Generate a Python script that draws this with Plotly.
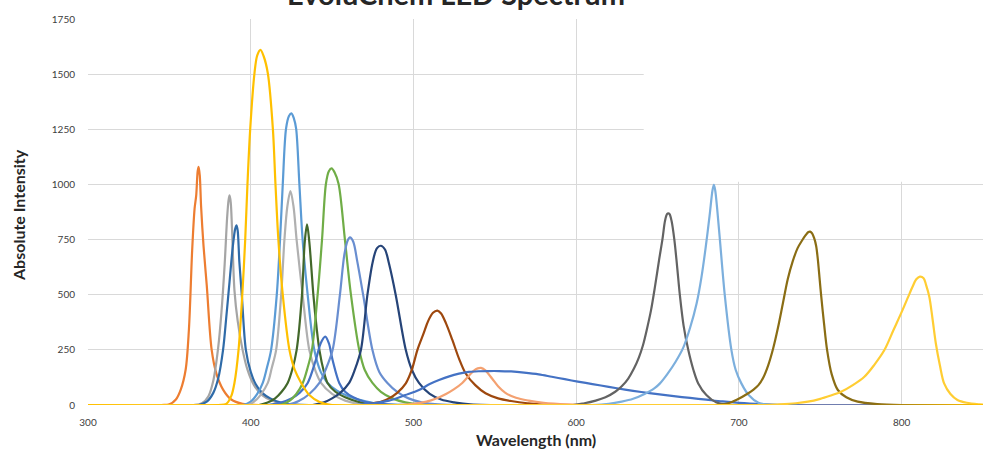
import plotly.graph_objects as go

# ---- data (wavelength nm, absolute intensity) ----
uv365_x = [300, 345, 350, 354, 357, 360, 362, 364, 365.5, 366.5, 367.4, 368, 368.7, 369.5, 371, 373, 376, 379, 383, 388, 395, 405, 850]
uv365_y = [0, 0, 3, 25, 70, 160, 340, 700, 890, 950, 1060, 1080, 1040, 900, 720, 540, 250, 140, 70, 25, 5, 0, 0]

uv385a_x = [300, 365, 370, 374, 377, 380, 382, 384, 385.5, 386.4, 387, 387.7, 388.5, 390, 392, 395, 398, 402, 407, 413, 420, 850]
uv385a_y = [0, 0, 8, 40, 110, 260, 420, 640, 850, 930, 950, 920, 800, 520, 380, 250, 160, 90, 45, 20, 5, 0]

uv390_x = [300, 368, 373, 377, 380, 383, 385, 387, 389, 390.5, 391.3, 392, 393, 394.5, 397, 400, 403, 407, 412, 418, 425, 850]
uv390_y = [0, 0, 15, 55, 120, 250, 400, 560, 720, 800, 815, 790, 650, 500, 250, 150, 95, 55, 30, 12, 3, 0]

v405_x = [300, 380, 385, 388, 390, 392.5, 394.8, 396.6, 398, 399.7, 402.3, 404, 406, 408, 410.5, 413.6, 415.2, 417, 419.7, 423.8, 427, 431, 436, 442, 450, 850]
v405_y = [0, 0, 5, 40, 100, 249, 499, 748, 1002, 1253, 1504, 1585, 1610, 1580, 1504, 1253, 1002, 748, 499, 249, 160, 100, 45, 15, 0, 0]

b425_x = [300, 395, 400, 404, 407.4, 410, 412.5, 416, 418, 419.7, 421.7, 423.5, 425, 426.5, 427.9, 429.9, 431.9, 435, 439.1, 443, 447.2, 453, 460, 470, 480, 850]
b425_y = [0, 0, 15, 50, 100, 170, 249, 499, 748, 1002, 1253, 1310, 1322, 1300, 1253, 1002, 748, 499, 249, 150, 100, 65, 40, 18, 5, 0]

b424g_x = [300, 398, 402, 406, 410.5, 413, 415.6, 418.7, 420.7, 422.5, 424.4, 426.3, 428.2, 431.9, 436, 440, 443.2, 450, 458, 468, 850]
b424g_y = [0, 0, 15, 45, 100, 170, 249, 499, 748, 900, 970, 900, 748, 499, 249, 150, 100, 50, 20, 5, 0]

b435_x = [300, 405, 410, 415, 419, 422.7, 425.5, 428.2, 431.5, 433.2, 434.6, 436, 438.5, 440.5, 442.2, 445, 447.2, 452, 458, 466, 475, 850]
b435_y = [0, 0, 10, 30, 60, 100, 160, 249, 499, 740, 819, 740, 499, 350, 249, 150, 100, 60, 35, 15, 3, 0]

b446_x = [300, 410, 418, 425, 430, 435, 440, 443, 445.8, 448, 450.3, 454.4, 458, 463, 470, 480, 490, 850]
b446_y = [0, 0, 10, 30, 55, 100, 204, 280, 310, 280, 204, 100, 60, 35, 15, 5, 0, 0]

b450_x = [300, 418, 424, 428, 432, 435, 437.6, 441.1, 443.8, 446.2, 448, 449.7, 451.5, 454, 457.9, 461.6, 466.7, 470, 474.8, 480, 487, 495, 505, 850]
b450_y = [0, 0, 20, 50, 100, 170, 249, 499, 748, 1002, 1060, 1073, 1055, 1002, 748, 499, 249, 160, 100, 60, 30, 12, 3, 0]

b461_x = [300, 422, 430, 436, 442.2, 446, 450.3, 454.8, 457.5, 459.5, 461, 463, 465.5, 469.1, 474.8, 479, 484, 490, 497, 505, 515, 850]
b461_y = [0, 0, 20, 50, 100, 160, 249, 499, 680, 745, 760, 740, 650, 499, 249, 150, 100, 60, 30, 12, 3, 0]

c480_x = [300, 438, 445, 450, 455, 460.5, 464, 467.7, 471.7, 475, 477.5, 479.9, 482.5, 485, 489.1, 495.3, 499, 503.4, 510, 517, 525, 535, 850]
c480_y = [0, 0, 12, 30, 55, 100, 160, 249, 499, 650, 710, 722, 705, 640, 499, 249, 160, 100, 50, 25, 12, 3, 0]

g515_x = [300, 468, 475, 480, 485, 490, 495.3, 499, 502.4, 506, 509, 512, 514.7, 517, 520, 523.9, 528, 532, 538, 544.3, 552, 560, 570, 585, 850]
g515_y = [0, 0, 8, 15, 30, 55, 98, 160, 249, 320, 380, 418, 428, 415, 370, 295, 210, 144, 90, 53, 30, 18, 8, 0, 0]

g540_x = [300, 490, 500, 508, 513.6, 520, 525, 530, 534, 537, 539.5, 541.5, 544, 548.3, 552, 556.5, 563, 570.8, 580, 595, 610, 850]
g540_y = [0, 0, 5, 15, 28, 50, 72, 100, 132, 155, 166, 168, 158, 120, 85, 55, 33, 20, 10, 3, 0, 0]

w_x = [300, 465, 475, 485, 495, 503.4, 510, 515.7, 522, 528, 534, 540, 546, 552.5, 560, 568, 577, 585, 593, 601, 610, 620, 630, 640, 650, 660, 670, 680, 690, 700, 715, 730, 850]
w_y = [0, 0, 8, 20, 45, 68, 95, 113, 130, 142, 150, 153, 154, 154, 152, 147, 139, 128, 117, 106, 95, 82, 70, 59, 49, 40, 32, 24, 16, 10, 4, 0, 0]

r656_x = [300, 598, 605, 612, 618, 624, 628, 632, 635.5, 638.5, 641, 643.5, 646, 648.5, 651, 653, 654.6, 655.8, 656.6, 657.4, 658.6, 660.3, 662, 663.7, 666, 668.9, 672, 675, 680, 686, 695, 850]
r656_y = [0, 0, 8, 20, 35, 60, 85, 120, 165, 215, 270, 345, 430, 540, 660, 751, 835, 865, 869, 865, 835, 751, 630, 499, 360, 249, 160, 98, 45, 12, 0, 0]

r685_x = [300, 610, 620, 628, 635, 642, 648, 651.5, 656, 661, 665.8, 670, 674, 677, 679.5, 682, 683.8, 684.6, 685.4, 686.8, 688.3, 691.3, 695.4, 698, 701.5, 706, 712, 720, 850]
r685_y = [0, 0, 5, 15, 28, 50, 75, 98, 140, 195, 260, 350, 460, 580, 710, 860, 975, 998, 975, 877, 751, 499, 249, 160, 98, 45, 10, 0, 0]

ir744_x = [300, 685, 693.5, 699, 705, 709, 712, 715, 718, 721, 724, 727, 730, 733, 736, 739, 741, 742.5, 743.8, 745, 746.3, 747.5, 748.5, 749.5, 750.5, 752.3, 754.2, 757, 760.8, 766, 773, 785, 800, 850]
ir744_y = [0, 0, 8, 25, 50, 70, 90, 125, 180, 255, 350, 460, 570, 650, 710, 748, 770, 783, 786, 778, 755, 720, 660, 580, 499, 370, 249, 140, 68, 35, 15, 4, 0, 0]

ir810_x = [300, 715, 725, 735, 742.4, 750, 756, 762.8, 770, 777.1, 783, 789.4, 795, 800.6, 804, 806.7, 809, 811.2, 813.5, 815, 817, 819, 821, 823.5, 826.1, 830, 834.3, 840, 848, 850]
ir810_y = [0, 0, 3, 8, 15, 28, 42, 60, 90, 128, 180, 249, 340, 431, 490, 536, 570, 582, 575, 545, 491, 390, 280, 180, 98, 50, 23, 10, 3, 2]

series = [
    (uv365_x, uv365_y, "#ED7D31"),
    (uv385a_x, uv385a_y, "#A5A5A5"),
    (uv390_x, uv390_y, "#2F6BA8"),
    (b425_x, b425_y, "#5B9BD5"),
    (b424g_x, b424g_y, "#B0B0B0"),
    (b435_x, b435_y, "#43682B"),
    (b446_x, b446_y, "#4472C4"),
    (b450_x, b450_y, "#70AD47"),
    (b461_x, b461_y, "#698ED0"),
    (c480_x, c480_y, "#264478"),
    (g515_x, g515_y, "#9E480E"),
    (g540_x, g540_y, "#F4A171"),
    (w_x, w_y, "#4472C4"),
    (r656_x, r656_y, "#636363"),
    (r685_x, r685_y, "#7CAFDD"),
    (ir744_x, ir744_y, "#8A6D14"),
    (ir810_x, ir810_y, "#FFCD33"),
    (v405_x, v405_y, "#FFC000"),
]

fig = go.Figure()
for xs, ys, col in series:
    fig.add_trace(go.Scatter(
        x=xs, y=ys, mode="lines",
        line=dict(color=col, width=2.2, shape="spline", smoothing=0.9),
        hoverinfo="skip", showlegend=False,
    ))

grid = "#D9D9D9"
font_family = "Lato, Open Sans, sans-serif"
tickfont = dict(family=font_family, size=10, color="#404040")

fig.update_layout(
    width=983, height=451,
    margin=dict(l=88, r=0, t=19, b=46, autoexpand=False),
    paper_bgcolor="white", plot_bgcolor="white",
    showlegend=False,
    xaxis=dict(
        range=[300, 850], tickvals=[300, 400, 500, 600, 700, 800],
        showgrid=True, gridcolor=grid, gridwidth=1, zeroline=False,
        showline=False, ticks="", tickfont=tickfont, ticklabelstandoff=10,
        automargin=False,
    ),
    yaxis=dict(
        range=[0, 1750], tickvals=[0, 250, 500, 750, 1000, 1250, 1500, 1750],
        showgrid=True, gridcolor=grid, gridwidth=1, zeroline=False,
        showline=False, ticks="", tickfont=tickfont, ticklabelstandoff=12,
        automargin=False,
    ),
    shapes=[dict(type="rect", xref="x", yref="y", x0=641.5, x1=851, y0=1012, y1=1800,
                 fillcolor="white", line=dict(width=0), layer="between")],
    annotations=[
        dict(text="<b>EvoluChem LED Spectrum</b>", xref="paper", yref="paper",
             x=(456 - 88) / 895, y=1, xanchor="center", yanchor="middle",
             yshift=26, showarrow=False,
             font=dict(family=font_family, size=29, color="#262626")),
        dict(text="<b>Wavelength (nm)</b>", xref="paper", yref="paper",
             x=0.5, y=0, xanchor="center", yanchor="middle", yshift=-34,
             showarrow=False, font=dict(family=font_family, size=16, color="#262626")),
        dict(text="<b>Absolute Intensity</b>", xref="paper", yref="paper",
             x=0, y=(405 - 215) / 386, xanchor="center", yanchor="middle", xshift=-70,
             textangle=-90, showarrow=False,
             font=dict(family=font_family, size=16, color="#262626")),
    ],
)

fig.write_html("out.html", config={"displayModeBar": False},
               post_script="document.body.style.margin='0';document.body.style.padding='0';")
